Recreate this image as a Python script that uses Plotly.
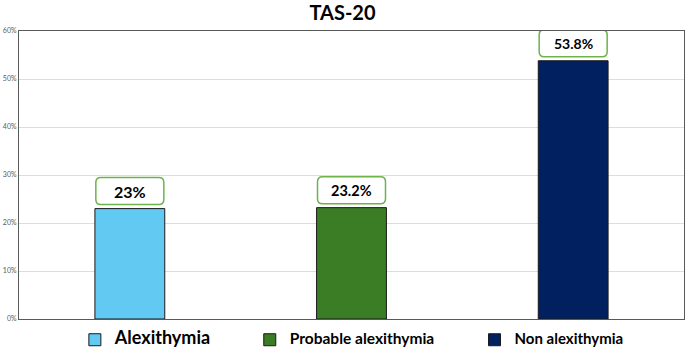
import plotly.graph_objects as go

categories = ["Alexithymia", "Probable alexithymia", "Non alexithymia"]
values = [23.0, 23.2, 53.8]
labels = ["23%", "23.2%", "53.8%"]
label_sizes = [16, 14.5, 14]
legend_sizes = [18, 15.5, 15]
colors = ["#61C9F2", "#3A7D25", "#002060"]
y_ticks = [0, 10, 20, 30, 40, 50, 60]
y_ticklabels = ["0%", "10%", "20%", "30%", "40%", "50%", "60%"]

legend_x = [0.084, 0.347, 0.685]

FONT = "Lato, 'Open Sans', sans-serif"

fig = go.Figure()
for i, (c, v, col) in enumerate(zip(categories, values, colors)):
    fig.add_trace(go.Bar(
        x=[c], y=[v],
        name=f"<span style='font-size:{legend_sizes[i]}px'><b>{c}</b></span>",
        marker=dict(color=col, line=dict(color="#1a1a1a", width=1)),
        width=0.315,
        legend="legend" if i == 0 else f"legend{i+1}",
        hoverinfo="skip",
    ))

# rounded label boxes (pixel-sized, anchored at bar tops)
W, H, OFF, R = 68, 27, 4, 5
def rounded_path(w, h, off, r):
    x0, x1 = -w / 2, w / 2
    y0, y1 = off, off + h
    return (f"M{x0+r},{y0} L{x1-r},{y0} Q{x1},{y0} {x1},{y0+r} "
            f"L{x1},{y1-r} Q{x1},{y1} {x1-r},{y1} L{x0+r},{y1} "
            f"Q{x0},{y1} {x0},{y1-r} L{x0},{y0+r} Q{x0},{y0} {x0+r},{y0} Z")

for i, (c, v, lab) in enumerate(zip(categories, values, labels)):
    fig.add_shape(
        type="path", xref="x", yref="y",
        xsizemode="pixel", ysizemode="pixel",
        xanchor=i, yanchor=v,
        path=rounded_path(W, H, OFF, R),
        line=dict(color="#6DB34A", width=1.5),
        fillcolor="white",
    )
    fig.add_annotation(
        x=c, y=v, text=f"<b>{lab}</b>", showarrow=False,
        yshift=OFF + H / 2, yanchor="middle",
        font=dict(family=FONT, size=label_sizes[i], color="black"),
    )

legend_common = dict(orientation="h", yanchor="middle", y=-0.072, xanchor="left",
                     font=dict(family=FONT, color="black"), bgcolor="rgba(0,0,0,0)")
fig.update_layout(
    width=685, height=350,
    margin=dict(l=19, r=1, t=31, b=31, autoexpand=False),
    paper_bgcolor="white", plot_bgcolor="white",
    barmode="overlay",
    title=dict(text="<b>TAS-20</b>", x=0.5, xanchor="center", y=0.962, yanchor="middle",
               font=dict(family=FONT, size=20, color="black")),
    xaxis=dict(showticklabels=False, ticks="", showgrid=False, automargin=False,
               showline=True, mirror=True, linecolor="#595959", linewidth=1),
    yaxis=dict(range=[0, 60], tickvals=y_ticks, ticktext=y_ticklabels, automargin=False,
               tickfont=dict(family=FONT, size=7, color="#595959"),
               showgrid=True, gridcolor="#DDDDDD", gridwidth=1,
               showline=True, mirror=True, linecolor="#595959", linewidth=1,
               zeroline=False, ticks=""),
    legend=dict(x=legend_x[0], **legend_common),
    legend2=dict(x=legend_x[1], **legend_common),
    legend3=dict(x=legend_x[2], **legend_common),
    showlegend=True,
)

fig.write_html("out.html", config={"displayModeBar": False},
               post_script="document.body.style.margin='0';document.body.style.overflow='hidden';")
